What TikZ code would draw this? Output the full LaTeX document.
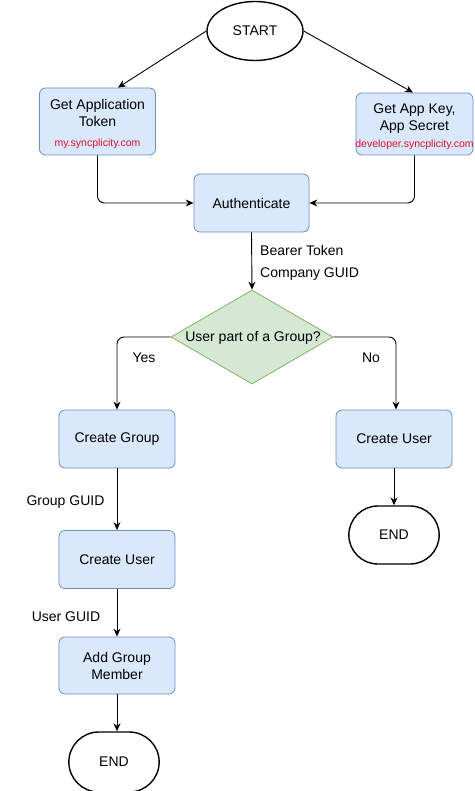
\documentclass[tikz,border=0pt]{standalone}
\usepackage{fontspec}
\setmainfont{Liberation Sans}
\usetikzlibrary{shapes.geometric,shapes.misc,arrows.meta,calc}
\definecolor{boxf}{HTML}{DAE8FC}
\definecolor{boxb}{HTML}{6C8EBF}
\definecolor{decf}{HTML}{D5E8D4}
\definecolor{decb}{HTML}{82B366}
\definecolor{urlred}{HTML}{E0102E}
\begin{document}
\begin{tikzpicture}[x=1pt,y=-1pt,
  every node/.style={font=\fontsize{14}{17}\selectfont},
  proc/.style={draw=boxb, fill=boxf, rounded corners=6pt, minimum width=116pt, minimum height=58pt, align=center, line width=0.8pt, inner sep=2pt},
  term/.style={draw=black, fill=white, rounded rectangle, minimum width=97pt, minimum height=58pt, line width=1.4pt},
  startnode/.style={draw=black, fill=white, ellipse, minimum width=96pt, minimum height=59pt, line width=1.4pt},
  decnode/.style={draw=decb, fill=decf, diamond, minimum width=162pt, minimum height=94pt, inner sep=0pt, line width=0.8pt},
  arr/.style={draw=black, line width=0.9pt, -{Stealth[length=8pt,width=7pt]}},
  lbl/.style={inner sep=0pt},
  url/.style={font=\fontsize{10.5}{12}\selectfont, text=urlred}
]
\useasboundingbox (0,0) rectangle (474,791);

\node[startnode] (start) at (255,31) {START};
\node[proc, minimum height=67pt] (gat) at (97.5,121.5) {};
\node[lbl, align=center] (gattext) at (97.5,124) {Get Application\\Token\\[3pt]{\fontsize{10.5}{12}\selectfont\color{urlred}my.syncplicity.com}};
\node[proc, minimum width=117pt, minimum height=62pt] (gak) at (414.5,124) {};
\node[lbl, align=center] (gaktext) at (414.5,126.5) {Get App Key,\\App Secret\\[0pt]{\fontsize{10.5}{12}\selectfont\color{urlred}developer.syncplicity.com}};
\node[proc, minimum width=115pt] (auth) at (251.5,203) {Authenticate};
\node[decnode] (dec) at (252,337) {};
\node[lbl] (dectext) at (253,338) {User part of a Group?};
\node[proc] (cg) at (117,439) {Create Group};
\node[proc] (cu2) at (394,439) {Create User};
\node[term] (end2) at (394,535) {END};
\node[proc] (cu1) at (117,559.5) {Create User};
\node[proc, minimum height=57pt] (agm) at (117,665.5) {Add Group\\Member};
\node[term, minimum height=60pt] (end1) at (114,762) {END};

\node[lbl, anchor=west, align=left, font=\fontsize{14}{22}\selectfont] (bt) at (260,263) {Bearer Token\\Company GUID};
\node[lbl] (yes) at (144,358) {Yes};
\node[lbl] (no) at (371,358) {No};
\node[lbl] (gg) at (65.5,502) {Group GUID};
\node[lbl] (ug) at (66,617) {User GUID};

\draw[arr] (start.west) -- ($(gat.north)+(20.5,0)$);
\draw[arr] (start.east) -- ($(gak.north)+(-1.5,0)$);
\draw[arr, rounded corners=7pt] (gat.south) |- (auth.west);
\draw[arr, rounded corners=7pt] (gak.south) |- (auth.east);
\draw[arr] (auth.south) -- (dec.north);
\draw[arr, rounded corners=7pt] (dec.west) -| (cg.north);
\draw[arr, rounded corners=7pt] (dec.east) -| ($(cu2.north)+(2,0)$);
\draw[arr] (cg.south) -- (cu1.north);
\draw[arr] (cu1.south) -- (agm.north);
\draw[arr] (agm.south) -- (agm.south |- end1.north);
\draw[arr] (cu2.south) -- (end2.north);
\end{tikzpicture}
\end{document}
